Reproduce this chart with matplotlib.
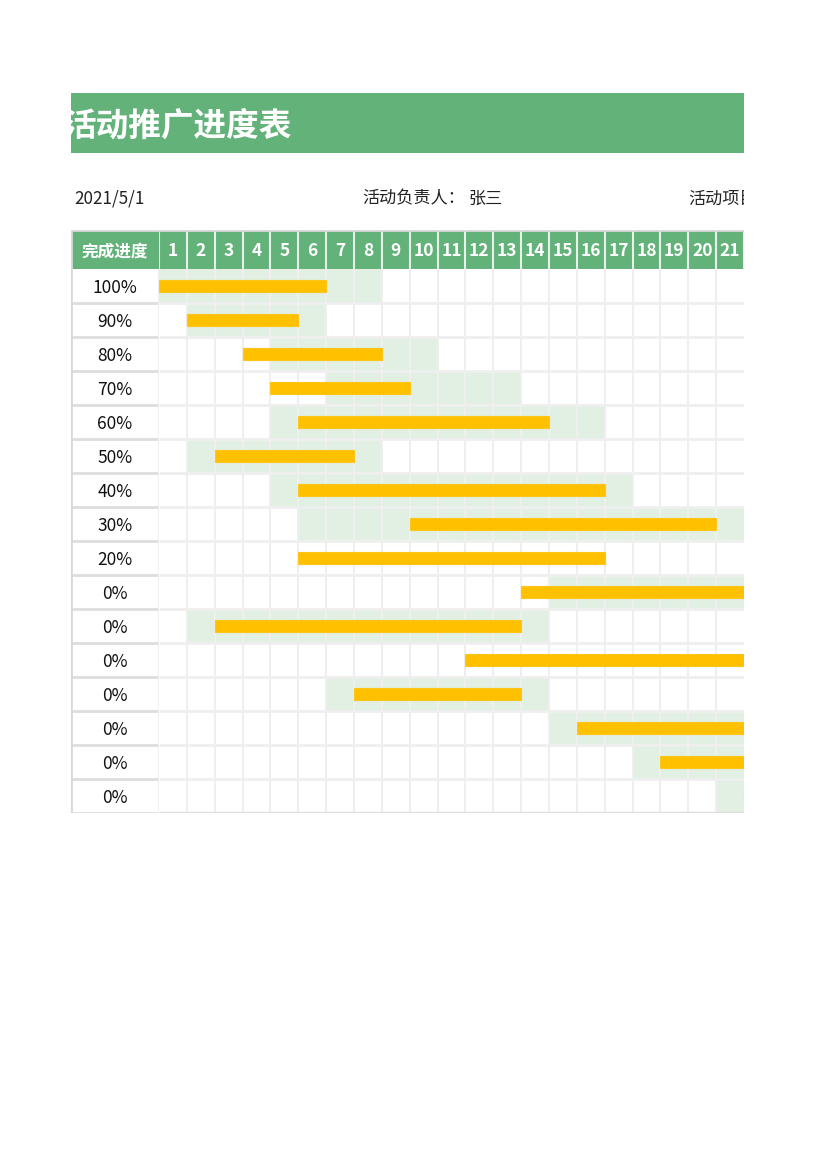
import matplotlib.pyplot as plt

plt.rcParams['font.family'] = ['Noto Sans CJK SC', 'DejaVu Sans']

W, H = 827, 1170

title = '活动推广进度表'
start_date = '2021/5/1'
owner_label = '活动负责人：'
owner = '张三'
project_label = '活动项目：'
header_label = '完成进度'
days = list(range(1, 22))

progress = ['100%', '90%', '80%', '70%', '60%', '50%', '40%', '30%',
            '20%', '0%', '0%', '0%', '0%', '0%', '0%', '0%']
# planned days (green cells), inclusive, None = no plan shown
plan_start = [1, 2, 5, 7, 5, 2, 5, 6, None, 15, 2, None, 7, 15, 18, 21]
plan_end = [8, 6, 10, 13, 16, 8, 17, 25, None, 28, 14, None, 14, 28, 28, 30]
# actual days (yellow bars), inclusive
actual_start = [1, 2, 4, 5, 6, 3, 6, 10, 6, 14, 3, 12, 8, 16, 19, 22]
actual_end = [6, 5, 8, 9, 14, 7, 16, 20, 16, 28, 13, 30, 13, 28, 28, 30]

GREEN = '#63b27a'
LIGHT_GREEN = '#e2efe3'
YELLOW = '#ffc000'
GRID = '#efefef'
BORDER = '#d9d9d9'


def px_box(x0, y0, x1, y1):
    return [x0 / W, 1 - y1 / H, (x1 - x0) / W, (y1 - y0) / H]


def blank(ax):
    ax.set_xticks([])
    ax.set_yticks([])
    for s in ax.spines.values():
        s.set_visible(False)


fig = plt.figure(figsize=(W / 100, H / 100), dpi=100)

# title band
ax_t = fig.add_axes(px_box(71, 93, 744, 153))
blank(ax_t)
ax_t.set_facecolor(GREEN)
ax_t.text(-0.01, 0.44, title, transform=ax_t.transAxes, ha='left', va='center',
          fontsize=23.5, fontweight='bold', color='white', clip_on=True)

# info row
ax_i = fig.add_axes(px_box(71, 180, 744, 215))
blank(ax_i)
ax_i.patch.set_alpha(0)
for xp, s in [(74, start_date), (362, owner_label), (468, owner), (688, project_label)]:
    ax_i.text((xp - 71) / 673, 0.47, s, transform=ax_i.transAxes, ha='left',
              va='center', fontsize=12.3, color='#222222', clip_on=True)

# header: label cell
ax_hl = fig.add_axes(px_box(71, 230, 159, 269))
blank(ax_hl)
ax_hl.set_facecolor(GREEN)
ax_hl.text(0.5, 0.45, header_label, transform=ax_hl.transAxes, ha='center',
           va='center', fontsize=12, fontweight='bold', color='white')

# header: day numbers
ax_h = fig.add_axes(px_box(159, 230, 744, 269))
blank(ax_h)
ax_h.set_facecolor(GREEN)
ax_h.set_xlim(0, len(days))
ax_h.set_ylim(0, 1)
for i, d in enumerate(days):
    ax_h.text(i + 0.5, 0.45, str(d), ha='center', va='center', fontsize=12.5,
              fontweight='bold', color='white')
ax_h.vlines(range(0, len(days) + 1), 0, 1, color='#e8f2ea', lw=1.5)
ax_h.axhline(1, color=BORDER, lw=2)
ax_hl.axhline(1, color=BORDER, lw=2)
ax_hl.axvline(0, color=BORDER, lw=2)

# label column
n = len(progress)
ax_l = fig.add_axes(px_box(71, 269, 159, 813))
blank(ax_l)
ax_l.set_xlim(0, 1)
ax_l.set_ylim(n, 0)
for i, p in enumerate(progress):
    ax_l.text(0.5, i + 0.57, p, ha='center', va='center', fontsize=12.5, color='#111111')
ax_l.hlines(range(1, n + 1), 0, 1, color='#dedede', lw=2)
ax_l.axvline(0, color=BORDER, lw=2)
ax_l.axvline(1, color=GRID, lw=1.5)

# gantt area
ax = fig.add_axes(px_box(159, 269, 744, 813))
blank(ax)
ax.set_xlim(0, len(days))
ax.set_ylim(n, 0)

rows = list(range(n))
pr = [r for r in rows if plan_start[r] is not None]
ax.barh([r + 0.5 for r in pr],
        [plan_end[r] - plan_start[r] + 1 for r in pr],
        left=[plan_start[r] - 1 for r in pr],
        height=1.0, color=LIGHT_GREEN, zorder=1)
ax.vlines(range(1, len(days)), 0, n, color=GRID, lw=1.5, zorder=2)
ax.hlines(range(1, n), 0, len(days), color=GRID, lw=2, zorder=2)
ax.hlines(n, 0, len(days), color='#dedede', lw=2.5, zorder=2)
ax.barh([r + 0.5 for r in rows],
        [actual_end[r] - actual_start[r] + 1 for r in rows],
        left=[actual_start[r] - 1 for r in rows],
        height=0.38, color=YELLOW, edgecolor='#ffc61a', lw=0.8, zorder=3)

fig.savefig('out.png', dpi=100)
